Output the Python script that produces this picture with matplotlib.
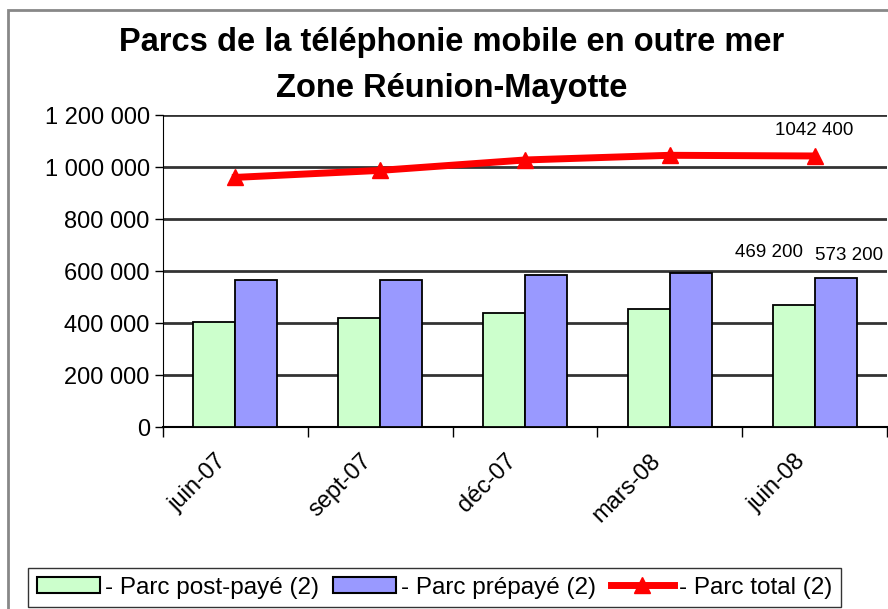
import numpy as np
from matplotlib import pyplot as plt
from matplotlib.patches import Rectangle
from matplotlib.lines import Line2D
from matplotlib.ticker import FuncFormatter, FixedLocator
from matplotlib.transforms import ScaledTranslation

plt.rcParams['font.family'] = ['Liberation Sans', 'DejaVu Sans']

# data
dates = ['juin-07', 'sept-07', 'déc-07', 'mars-08', 'juin-08']
post_paye = [404000, 419000, 437000, 454000, 469200]
prepaye = [566000, 566000, 583000, 592000, 573200]
total = [960000, 987000, 1027000, 1045000, 1042400]

GREEN = '#CCFFCC'
BLUE = '#9999FF'
RED = '#FF0000'

fig = plt.figure(figsize=(8.88, 6.09), dpi=100)

# chart area border (right and bottom are cropped in the reference)
fig.patches.append(Rectangle((8 / 888, -0.1), 1.2, 1 - 10 / 609 + 0.1, transform=fig.transFigure,
                             fill=False, edgecolor='#888888', linewidth=2.0))

ax = fig.add_axes([163 / 888, 1 - 427 / 609, 724 / 888, (427 - 115) / 609])

x = np.arange(len(dates))
bar_w = 0.29
ax.bar(x - bar_w / 2, post_paye, bar_w, color=GREEN, edgecolor='black', linewidth=1.3, zorder=3)
ax.bar(x + bar_w / 2, prepaye, bar_w, color=BLUE, edgecolor='black', linewidth=1.3, zorder=3)
ax.plot(x, total, color=RED, linewidth=5, marker='^', markersize=11, zorder=4)

ax.set_xlim(-0.5, len(dates) - 0.5)
ax.set_ylim(0, 1200000)
ax.set_yticks(np.arange(0, 1200001, 200000))
ax.yaxis.set_major_formatter(FuncFormatter(lambda v, _: f'{int(v):,}'.replace(',', ' ')))
ax.grid(axis='y', color='#333333', linewidth=2.0, zorder=1)
ax.set_axisbelow(True)

# category labels at centres, tick marks at boundaries
ax.set_xticks(x)
ax.set_xticklabels(dates, rotation=45, ha='right', rotation_mode='anchor', fontsize=17)
ax.tick_params(axis='x', length=0, pad=16.5)
shift = ScaledTranslation(-20 / 100, 0, fig.dpi_scale_trans)
for lbl in ax.get_xticklabels():
    lbl.set_transform(lbl.get_transform() + shift)
ax.xaxis.set_minor_locator(FixedLocator(np.arange(-0.5, len(dates), 1)))
ax.tick_params(axis='x', which='minor', length=7, width=1, color='black')
ax.tick_params(axis='y', labelsize=17, length=6, width=1, color='black')

for side in ['top', 'right']:
    ax.spines[side].set_visible(False)
ax.spines['left'].set_color('black')
ax.spines['bottom'].set_color('black')
ax.spines['bottom'].set_linewidth(1.5)

# data labels on the last period
fmt = lambda v: f'{v:,.0f}'.replace(',', ' ')
ax.annotate(fmt(total[-1]).replace(' ', '', 1), (x[-1], total[-1]), xytext=(0, 12), textcoords='offset points',
            ha='center', va='bottom', fontsize=13.5)
ax.annotate(fmt(prepaye[-1]), (x[-1] + bar_w / 2, prepaye[-1]), xytext=(10, 10), textcoords='offset points',
            ha='center', va='bottom', fontsize=13.5, annotation_clip=False)
ax.annotate(fmt(post_paye[-1]), (x[-1] - bar_w / 2, post_paye[-1]), xytext=(-18, 32), textcoords='offset points',
            ha='center', va='bottom', fontsize=13.5)

fig.text(452 / 888, 1 - 42 / 609, 'Parcs de la téléphonie mobile en outre mer', ha='center', va='center',
         fontsize=23.5, fontweight='bold')
fig.text(452 / 888, 1 - 88 / 609, 'Zone Réunion-Mayotte', ha='center', va='center',
         fontsize=23.5, fontweight='bold')

handles = [
    Rectangle((0, 0), 1, 1, facecolor=GREEN, edgecolor='black', linewidth=1.5),
    Rectangle((0, 0), 1, 1, facecolor=BLUE, edgecolor='black', linewidth=1.5),
    Line2D([], [], color=RED, linewidth=5, marker='^', markersize=11),
]
labels = ['- Parc post-payé (2)', '- Parc prépayé (2)', '- Parc total (2)']
leg = fig.legend(handles, labels, loc='upper left', bbox_to_anchor=(28 / 888, 1 - 568 / 609), ncol=3,
                 fontsize=17.5, frameon=True, fancybox=False, edgecolor='black', handlelength=2.6,
                 handleheight=0.6, handletextpad=0.2, columnspacing=0.6, borderpad=0.35, borderaxespad=0)
leg.get_frame().set_linewidth(1.0)

fig.savefig('out.png', dpi=100)
